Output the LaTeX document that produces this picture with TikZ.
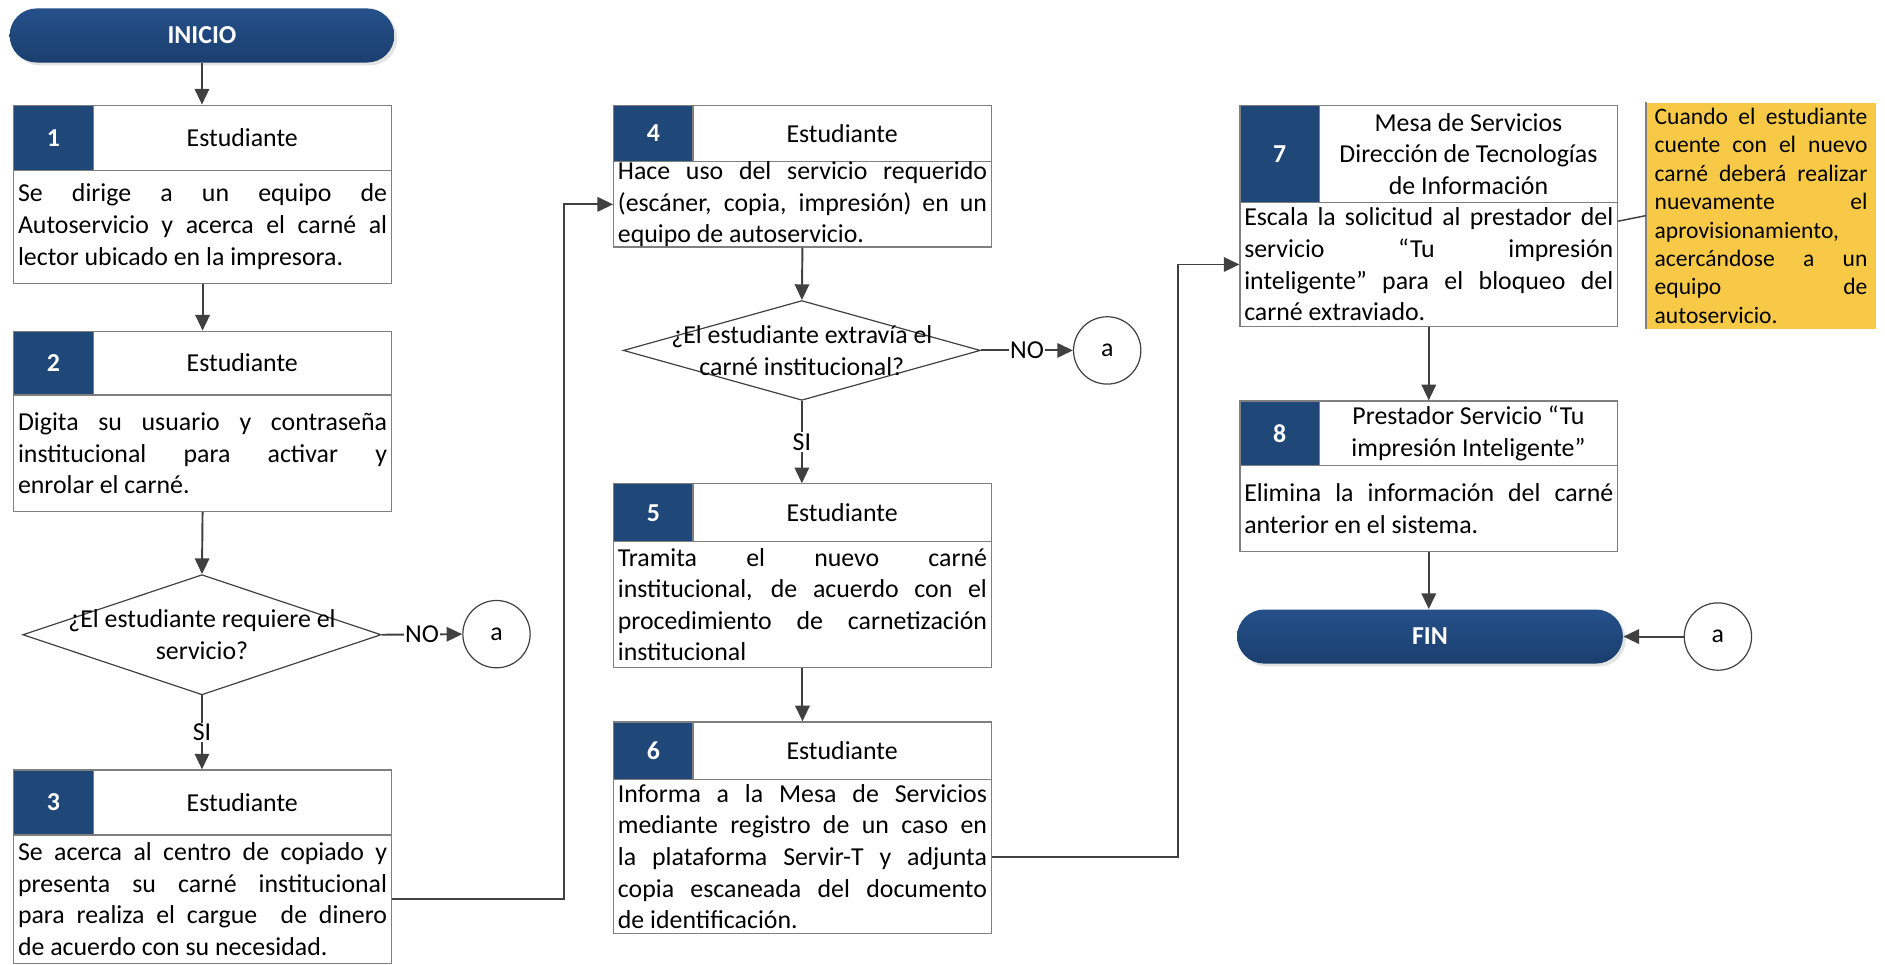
\documentclass[tikz,border=0pt]{standalone}
\usepackage{fontspec}
\setmainfont{Carlito}
\usetikzlibrary{shapes.geometric,arrows.meta,calc,shadows}
\definecolor{navy}{HTML}{1F4878}
\definecolor{navytop}{HTML}{25508A}
\definecolor{navybot}{HTML}{1B3F6E}
\definecolor{lineg}{HTML}{404040}
\definecolor{boxg}{HTML}{7F7F7F}
\definecolor{notey}{HTML}{F8C947}
\newcommand{\jline}[1]{\hbox to\hsize{#1}}
\newcommand{\lline}[1]{\hbox to\hsize{#1\hfil}}
\newcommand{\parablock}[2]{\vbox{\hsize=#1\relax #2}}
\newcommand{\bodyfont}{\fontsize{10.75}{13.15}\selectfont}
\newcommand{\notefont}{\fontsize{9.8}{11.85}\selectfont}
\tikzset{
  terminal/.style={rectangle, rounded corners=11.25pt, top color=navytop, bottom color=navybot,
    text=white, font=\bodyfont\bfseries, minimum height=22.5pt, inner sep=0pt,
    drop shadow={shadow xshift=1.2pt, shadow yshift=-1.2pt, fill=black!22}},
  numbox/.style={rectangle, draw=boxg, line width=0.5pt, fill=navy, text=white, font=\bodyfont\bfseries,
    anchor=north west, minimum width=33pt, inner sep=0pt},
  hdrbox/.style={rectangle, draw=boxg, line width=0.5pt, fill=white, font=\bodyfont, anchor=north west,
    minimum width=124pt, inner sep=0pt, align=center},
  bodybox/.style={rectangle, draw=boxg, line width=0.5pt, fill=white, font=\bodyfont, anchor=north west,
    minimum width=157pt, inner xsep=1.75pt, inner ysep=0pt},
  decision/.style={diamond, draw=lineg, line width=0.5pt, inner sep=0pt},
  conn/.style={circle, draw=lineg, line width=0.5pt, minimum size=28pt, inner sep=0pt, font=\bodyfont},
  arr/.style={draw=lineg, line width=0.8pt, -{Triangle[length=6.5pt,width=6pt]}},
  plainline/.style={draw=lineg, line width=0.6pt},
  lbl/.style={fill=white, inner sep=0.6pt, font=\bodyfont}
}
% #1 id, #2 x0, #3 ytop, #4 header height, #5 body height, #6 number, #7 header text, #8 body
\newcommand{\flowbox}[8]{%
  \node[hdrbox, minimum height=#4*0.5pt] (h#1) at (#2+66,#3) {#7};
  \node[bodybox, minimum height=#5*0.5pt] (b#1) at (#2,#3+#4) {\parablock{153.5pt}{#8}};
  \node[numbox, minimum height=#4*0.5pt] (n#1) at (#2,#3) {#6};
}
\begin{document}
\begin{tikzpicture}[x=0.5pt,y=-0.5pt]
\useasboundingbox (0,0) rectangle (1568,802);

% terminals
\node[terminal, minimum width=160pt] (ini) at (168,29.5) {INICIO};
\node[terminal, minimum width=160.5pt] (fin) at (1189.5,529.5) {FIN};

% column 1
\flowbox{1}{11}{87}{54}{94}{1}{Estudiante}{%
  \jline{Se dirige a un equipo de}%
  \jline{Autoservicio y acerca el carné al}%
  \lline{lector ubicado en la impresora.}}
\flowbox{2}{11}{275}{53}{97}{2}{Estudiante}{%
  \jline{Digita su usuario y contraseña}%
  \jline{institucional para activar y}%
  \lline{enrolar el carné.}}
\node[decision, minimum width=149pt, minimum height=50pt,
  label={[align=center, font=\bodyfont]center:¿El estudiante requiere el\\servicio?}] (d1) at (168,528) {};
\node[conn] (a1) at (413,527.5) {a};
\flowbox{3}{11}{640}{54}{107}{3}{Estudiante}{%
  \jline{Se acerca al centro de copiado y}%
  \jline{presenta su carné institucional}%
  \jline{para realiza el cargue\ \ de dinero}%
  \lline{de acuerdo con su necesidad.}}

% column 2
\flowbox{4}{510}{87}{47}{71}{4}{Estudiante}{%
  \jline{Hace uso del servicio requerido}%
  \jline{(escáner, copia, impresión) en un}%
  \lline{equipo de autoservicio.}}
\node[decision, minimum width=148.5pt, minimum height=41.5pt,
  label={[align=center, font=\bodyfont]center:¿El estudiante extravía el\\carné institucional?}] (d2) at (667,291.5) {};
\node[conn] (a2) at (921,291.5) {a};
\flowbox{5}{510}{402}{48}{105}{5}{Estudiante}{%
  \jline{Tramita el nuevo carné}%
  \jline{institucional, de acuerdo con el}%
  \jline{procedimiento de carnetización}%
  \lline{institucional}}
\flowbox{6}{510}{600}{48}{128}{6}{Estudiante}{%
  \jline{Informa a la Mesa de Servicios}%
  \jline{mediante registro de un caso en}%
  \jline{la plataforma Servir-T y adjunta}%
  \jline{copia escaneada del documento}%
  \lline{de identificación.}}

% column 3
\flowbox{7}{1031}{87}{81}{103}{7}{Mesa de Servicios\\Dirección de Tecnologías\\de Información}{%
  \jline{Escala la solicitud al prestador del}%
  \jline{servicio “Tu impresión}%
  \jline{inteligente” para el bloqueo del}%
  \lline{carné extraviado.}}
\flowbox{8}{1031}{333}{54}{71}{8}{Prestador Servicio “Tu\\impresión Inteligente”}{%
  \jline{Elimina la información del carné}%
  \lline{anterior en el sistema.}}
\node[conn] (a3) at (1429,529.5) {a};

% note
\node[rectangle, fill=notey, anchor=north west, minimum width=95.5pt, minimum height=94pt,
  inner xsep=3.5pt, inner ysep=0pt, font=\notefont] (note) at (1369,85) {\parablock{88.5pt}{%
  \jline{Cuando el estudiante}%
  \jline{cuente con el nuevo}%
  \jline{carné deberá realizar}%
  \jline{nuevamente el}%
  \lline{aprovisionamiento,}%
  \jline{acercándose a un}%
  \jline{equipo de}%
  \lline{autoservicio.}}};
\draw[boxg, line width=0.8pt] (note.north west) -- (note.south west);

% connectors
\draw[arr] (ini.south) -- (ini.south |- n1.north);
\draw[arr] (b1.south) -- (b1.south |- h2.north);
\draw[arr] (b2.south) -- (d1.north);
\draw[arr] (d1.east) -- node[lbl] {NO} (a1.west);
\draw[arr] (d1.south) -- node[lbl] {SI} (d1.south |- h3.north);
\draw[arr] (b3.east) -- ++(143,0) |- (b4.west);
\draw[arr] (b4.south) -- (d2.north);
\draw[arr] (d2.east) -- node[lbl] {NO} (a2.west);
\draw[arr] (d2.south) -- node[lbl] {SI} (d2.south |- h5.north);
\draw[arr] (b5.south) -- (b5.south |- h6.north);
\draw[arr] (b6.east) -- ++(155,0) |- (b7.west);
\draw[plainline] ([yshift=18pt]b7.east) -- (note.west);
\draw[arr] (b7.south) -- (b7.south |- h8.north);
\draw[arr] (b8.south) -- (b8.south |- fin.north);
\draw[arr] (a3) -- (fin);
\end{tikzpicture}
\end{document}
